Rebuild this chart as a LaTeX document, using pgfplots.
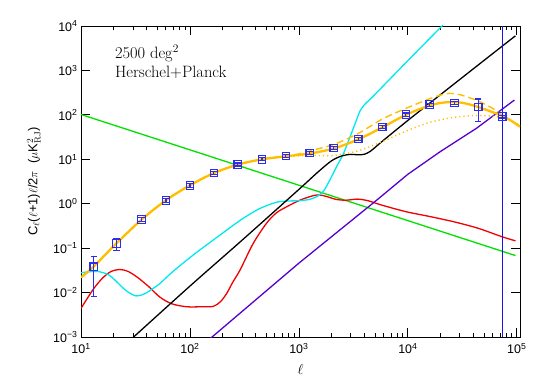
\documentclass[border=0pt]{standalone}
\usepackage{pgfplots}
\pgfplotsset{compat=1.18}
\usepackage{fontspec}
\setsansfont{Liberation Sans}
\definecolor{cOrange}{RGB}{255,190,0}
\definecolor{cCyan}{RGB}{0,232,240}
\definecolor{cRed}{RGB}{240,0,0}
\definecolor{cGreen}{RGB}{0,225,0}
\definecolor{cPurple}{RGB}{85,0,205}
\definecolor{cBlue}{RGB}{45,45,235}
\definecolor{cVline}{RGB}{20,20,230}
\begin{document}
\begin{tikzpicture}
\useasboundingbox (-81bp,-52bp) rectangle (464bp,337bp);
\begin{axis}[
  at={(0,0)}, anchor=south west,
  scale only axis, width=439bp, height=311bp,
  xmode=log, ymode=log,
  xmin=10, xmax=1.07e5, ymin=1e-3, ymax=1e4,
  axis line style={line width=0.9bp},
  every tick/.style={line width=0.8bp, black},
  xtick={10,100,1000,10000,100000},
  xticklabels={10\textsuperscript{1},10\textsuperscript{2},10\textsuperscript{3},10\textsuperscript{4},10\textsuperscript{5}},
  ytick={1e-3,1e-2,1e-1,1,10,100,1000,10000},
  yticklabels={10\textsuperscript{−3},10\textsuperscript{−2},10\textsuperscript{−1},10\textsuperscript{0},10\textsuperscript{1},10\textsuperscript{2},10\textsuperscript{3},10\textsuperscript{4}},
  yminorticks=false,
  tick align=inside,
  major tick length=9bp, minor tick length=4.5bp,
  tick label style={font=\sffamily\fontsize{12.5}{14}\selectfont},
  xticklabel style={yshift=-3bp},
  every axis x label/.style={at={(axis description cs:0.5,-0.106)}, anchor=center},
  every axis y label/.style={at={(axis description cs:-0.107,0.5)}, rotate=90, anchor=center},
  xlabel={\fontsize{15}{15}\selectfont$\ell$},
  ylabel={\sffamily\fontsize{13}{13}\selectfont C$_\ell$($\ell$+1)$\ell$/2$\pi$\ \ ($\mu$K$^2_{\mathrm{RJ}}$)},
]
% green
\addplot[cGreen, line width=1.3bp] coordinates {(10,102) (97300,0.068)};
% red
\addplot[cRed, line width=1.3bp, smooth] coordinates {
(10,0.0044) (13,0.012) (16,0.022) (19,0.030) (22.8,0.033) (27,0.030) (33,0.022) (42,0.0135) (53,0.0079) (68,0.0056) (93,0.0048) (130,0.0048) (164,0.0049) (190,0.0062) (217,0.0095) (250,0.018) (288,0.032) (381,0.128) (503,0.36) (620,0.62) (770,0.85) (1020,1.2) (1330,1.5) (1540,1.58) (1800,1.45) (2200,1.25) (2700,1.2) (3450,1.27) (4300,1.17) (5760,0.93) (9650,0.66) (16200,0.51) (26700,0.39) (44200,0.28) (73400,0.18) (97300,0.146)};
% cyan
\addplot[cCyan, line width=1.3bp, smooth] coordinates {
(10,0.028) (14,0.030) (18,0.025) (21,0.018) (26,0.011) (32,0.0084) (38,0.0093) (45,0.012) (53,0.016) (70,0.03) (107,0.07) (150,0.13) (217,0.254) (300,0.45) (438,0.78) (624,1.08) (800,1.15) (1000,1.17) (1250,1.25) (1500,1.5) (1700,2.0) (1920,3.4) (2300,8.1) (2570,13.6) (3200,54) (3630,120) (4000,170) (4630,240) (6000,460) (10000,1660) (15000,4570) (21000,10500)};
% black
\addplot[black, line width=1.3bp, smooth] coordinates {
(29,0.0009) (100,0.014) (300,0.15) (1000,2.1) (1500,5.2) (2000,9.3) (2500,12.0) (3000,12.9) (3500,12.6) (4000,13.0) (4500,15.0) (5000,18.5) (6000,27) (10000,75) (20000,287) (50000,1680) (97000,6000)};
% purple
\addplot[cPurple, line width=1.3bp] coordinates {
(150,0.00088) (1000,0.046) (5170,1.2) (10000,4.6) (19700,14.7) (42700,50) (95000,215)};
% orange dashed
\addplot[cOrange, line width=1.4bp, dash pattern=on 7bp off 4bp, smooth] coordinates {
(10,0.022) (13,0.038) (21,0.126) (36,0.44) (60,1.19) (100,2.6) (166,4.9) (275,7.6) (458,10) (700,11.4) (1000,13.2) (1260,15.4) (2090,21.6) (3500,38) (5810,80) (9600,140) (15900,231) (22600,300) (30000,285) (44200,205) (60000,140) (73400,99) (90000,73) (107000,56)};
% orange dotted
\addplot[cOrange, line width=1.4bp, dash pattern=on 1.2bp off 3bp, smooth] coordinates {
(10,0.022) (13,0.038) (21,0.126) (36,0.44) (60,1.19) (100,2.6) (166,4.9) (275,7.6) (458,10) (760,11.5) (1260,12.2) (2090,12.2) (3500,15.5) (5810,25) (9600,43) (15900,68) (26700,88) (44200,97) (60000,93) (73400,86) (90000,72) (107000,59)};
% orange solid
\addplot[cOrange, line width=2.3bp, smooth] coordinates {
(10,0.022) (13,0.038) (21,0.126) (36,0.44) (60,1.19) (100,2.6) (166,4.9) (275,7.6) (458,10) (760,11.7) (1260,13.5) (2090,17.5) (3500,28) (5800,52) (9600,100) (15900,163) (23000,193) (32000,186) (44200,150) (60000,115) (73400,95) (90000,72) (107000,54)};
% data points
\addplot[only marks, mark=square, mark size=3.8bp, cBlue, line width=1.1bp,
  mark options={line width=1.1bp},
  error bars/.cd, y dir=both, y explicit,
  error bar style={line width=1.1bp, cBlue},
  error mark options={rotate=90, mark size=3.2bp, line width=1.1bp, cBlue}]
table[x=l, y=c, y error plus=ep, y error minus=em] {
l c ep em
13.1 0.038 0.028 0.030
21.1 0.126 0.036 0.039
36 0.443 0.04 0.04
60.3 1.19 0.1 0.1
100 2.58 0.22 0.22
166 4.89 0.4 0.4
275 7.65 0.6 0.6
458 10.0 0.8 0.8
760 11.8 0.9 0.9
1260 13.8 1.1 1.1
2090 17.9 1.4 1.4
3500 28.5 2.3 2.3
5810 53 4.2 4.2
9600 102 8 8
15900 169 13 13
26700 185 15 15
44200 150 77 79
73400 92 7 7
};
% vertical line
\addplot[cVline, line width=1.1bp] coordinates {(74500,1e-3) (74500,1e4)};
\node[anchor=west, align=left, inner sep=0pt, font=\fontsize{16.5}{19}\selectfont] at (rel axis cs:0.077,0.886) {2500 deg\textsuperscript{2}\\Herschel+Planck};
\end{axis}
\end{tikzpicture}
\end{document}
